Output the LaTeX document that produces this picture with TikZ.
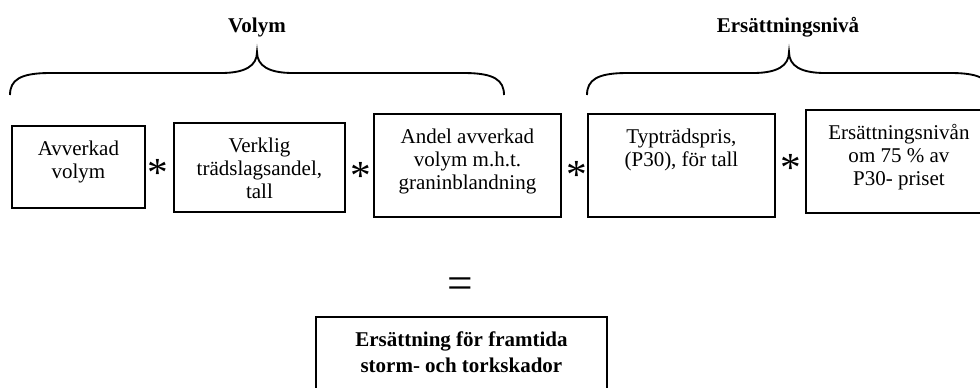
\documentclass[tikz,border=0pt]{standalone}
\usepackage{fontspec}
\setmainfont{Liberation Serif}
\usetikzlibrary{positioning}

\newlength{\px}
\setlength{\px}{0.75pt}
% box text: width, height, lines (top aligned)
\newcommand{\cell}[3]{\parbox[c][#2\px][t]{#1\px}{\centering\rule{0pt}{30\px}#3}}
% curly brace over the boxes: left end, tip, right end
\newcommand{\topbrace}[3]{%
  \draw (#1,95) .. controls (#1,80) and ({#1+10},73) .. ({#1+40},73)
    -- ({#2-36},73) .. controls ({#2-12},73) and (#2,66) .. (#2,52)
    .. controls (#2,66) and ({#2+12},73) .. ({#2+36},73)
    -- ({#3-40},73) .. controls ({#3-10},73) and (#3,80) .. (#3,95);}

\begin{document}
\begin{tikzpicture}[x=0.75pt, y=-0.75pt, line width=1.4pt,
    every node/.style={font=\fontsize{15.75}{17.25}\selectfont},
    box/.style={draw, inner sep=0pt, anchor=north west},
    head/.style={font=\fontsize{15.75}{17.25}\selectfont\bfseries, anchor=base},
    times/.style={font=\fontsize{31}{31}\selectfont, inner sep=0pt, yshift=-5\px},
]

\useasboundingbox (0,0) rectangle (980,387);

% Headings
\node[head] (volym) at (257,32) {Volym};
\node[head] (niva) at (788,32) {Ersättningsnivå};

% Braces
\topbrace{10}{257}{504}
\topbrace{587}{789}{991}

% Factors
\node[box] (avverkad) at (11,125) {\cell{133}{82}{Avverkad\\volym}};
\node[box] (tradslag) at (173,122) {\cell{171}{89}{Verklig\\trädslagsandel,\\tall}};
\node[box] (granandel) at (373,113) {\cell{187}{103}{Andel avverkad\\volym m.h.t.\\graninblandning}};
\node[box] (typpris) at (587,113) {\cell{187}{103}{Typträdspris,\\(P30), för tall}};
\node[box] (nivan) at (805,109) {\cell{186}{103}{Ersättningsnivån\\om 75 \% av\\P30- priset}};

% Multiplication signs
\node[times] (mul1) at (158,168) {*};
\node[times] (mul2) at (361,171) {*};
\node[times] (mul3) at (577,170) {*};
\node[times] (mul4) at (791,163) {*};

% Result
\node[font=\fontsize{34}{34}\selectfont, inner sep=0pt] (eq) at (460,288) {=};
\node[box, font=\fontsize{15.75}{19.5}\selectfont\bfseries] (result) at (315,316)
    {\cell{291}{100}{Ersättning för framtida\\storm- och torkskador}};

\end{tikzpicture}
\end{document}
